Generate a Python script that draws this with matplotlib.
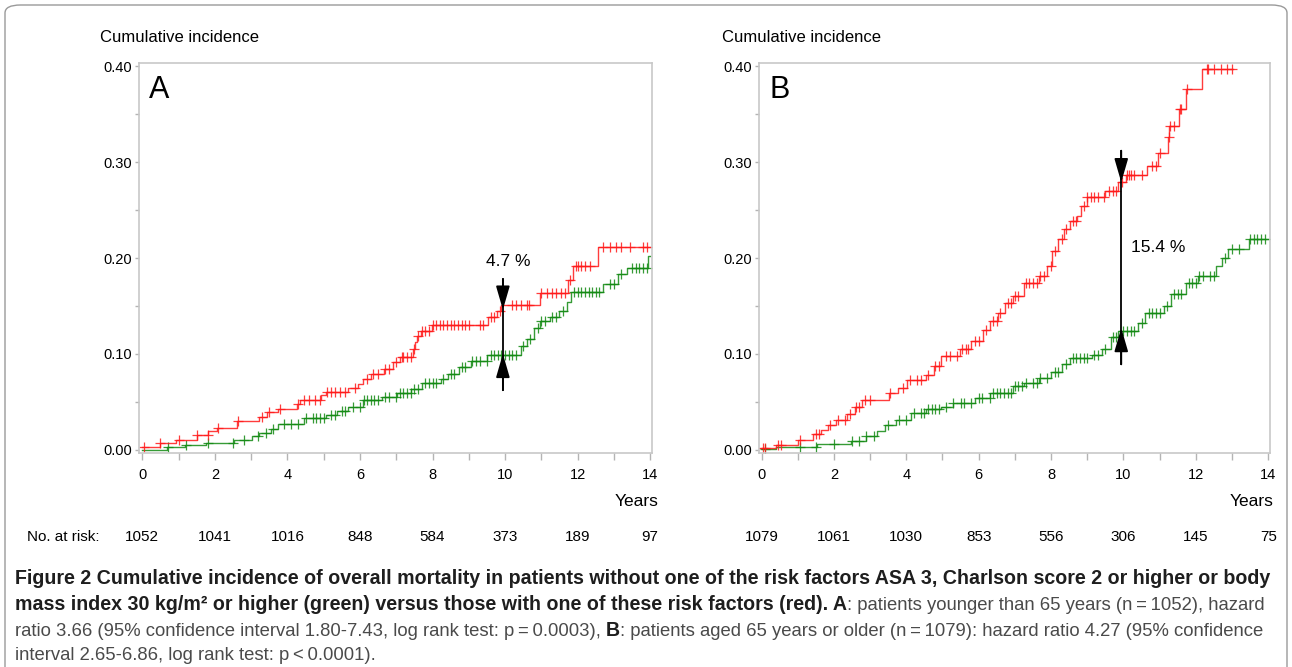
import numpy as np
import matplotlib
matplotlib.use('Agg')
import matplotlib.pyplot as plt
from matplotlib.patches import FancyBboxPatch
from matplotlib import transforms

plt.rcParams['font.family'] = ['Liberation Sans', 'DejaVu Sans']
CAP_FONT = ['Liberation Sans', 'DejaVu Sans']

# ---- panel A (younger than 65) : step times (years) and cumulative incidence
a_red_t = [0.0, 0.48, 0.94, 1.50, 1.81, 2.06, 2.62, 3.23, 3.44, 3.74, 4.26, 4.36, 4.92, 5.07,
           5.68, 5.94, 6.09, 6.30, 6.65, 6.91, 7.11, 7.47, 7.52, 7.57, 7.67, 7.98, 9.53, 9.77,
           9.90, 10.96, 11.74, 11.87, 12.57, 14.0]
a_red_v = [0.003, 0.007, 0.010, 0.0155, 0.019, 0.023, 0.030, 0.034, 0.039, 0.0425, 0.048, 0.052,
           0.057, 0.060, 0.064, 0.069, 0.074, 0.079, 0.084, 0.091, 0.097, 0.105, 0.112, 0.119,
           0.124, 0.130, 0.138, 0.145, 0.151, 0.163, 0.177, 0.192, 0.212, 0.212]
a_red_cens = [0.05, 0.5, 1.0, 1.5, 1.8, 2.1, 2.65, 3.3, 3.5, 3.8, 4.3, 4.45, 4.6, 4.75, 4.9, 5.1,
              5.2, 5.3, 5.45, 5.6, 5.85, 6.2, 6.35, 6.5, 6.7, 6.8, 7.0, 7.15, 7.2, 7.3, 7.4, 7.5,
              7.6, 7.7, 7.8, 7.9, 8.0, 8.1, 8.2, 8.3, 8.4, 8.5, 8.6, 8.7, 8.8, 8.9, 9.0, 9.3,
              9.4, 9.6, 9.7, 9.85, 10.2, 10.3, 10.45, 10.6, 10.65, 11.0, 11.15, 11.3, 11.4, 11.55,
              11.65, 11.8, 11.95, 12.0, 12.1, 12.2, 12.35, 12.7, 12.9, 13.05, 13.2, 13.45, 13.8, 13.9]

a_grn_t = [0.0, 0.68, 1.19, 1.76, 2.52, 3.03, 3.23, 3.54, 3.74, 4.46, 5.07, 5.38, 5.68, 6.09,
           6.60, 7.01, 7.42, 7.72, 8.23, 8.44, 8.74, 9.05, 9.51, 10.45, 10.60, 10.80, 10.96,
           11.24, 11.50, 11.70, 11.83, 12.70, 13.10, 13.35, 13.95, 14.0]
a_grn_v = [0.0, 0.0024, 0.005, 0.007, 0.010, 0.014, 0.017, 0.022, 0.027, 0.033, 0.036, 0.040,
           0.045, 0.052, 0.055, 0.059, 0.063, 0.070, 0.074, 0.079, 0.086, 0.093, 0.099, 0.108,
           0.115, 0.127, 0.134, 0.138, 0.145, 0.154, 0.165, 0.173, 0.183, 0.190, 0.202, 0.202]
a_grn_cens = [0.7, 1.2, 1.8, 2.5, 2.8, 3.2, 3.4, 3.6, 3.9, 4.1, 4.3, 4.5, 4.7, 4.8, 4.9, 5.0,
              5.2, 5.3, 5.5, 5.6, 5.8, 6.0, 6.1, 6.2, 6.3, 6.4, 6.5, 6.7, 6.8, 7.0, 7.1, 7.2,
              7.3, 7.4, 7.5, 7.6, 7.8, 7.9, 8.0, 8.1, 8.3, 8.5, 8.6, 8.8, 8.9, 9.1, 9.2, 9.3,
              9.5, 9.6, 9.7, 9.8, 9.9, 10.0, 10.1, 10.2, 10.3, 10.5, 10.7, 10.9, 11.0, 11.1,
              11.3, 11.4, 11.6, 11.9, 12.0, 12.1, 12.2, 12.3, 12.4, 12.5, 12.6, 12.9, 13.0,
              13.2, 13.5, 13.6, 13.7, 13.8, 13.9]

# ---- panel B (65 years or older)
b_red_t = [0.0, 0.39, 1.01, 1.43, 1.64, 1.84, 2.05, 2.36, 2.57, 2.78, 3.51, 3.77, 4.03, 4.55,
           4.76, 4.97, 5.49, 5.80, 6.11, 6.32, 6.53, 6.74, 6.95, 7.26, 7.68, 7.89, 8.04, 8.20,
           8.35, 8.51, 8.72, 8.82, 8.98, 9.50, 9.86, 10.07, 10.65, 10.96, 11.22, 11.27, 11.53,
           11.74, 12.16, 13.04]
b_red_v = [0.002, 0.005, 0.010, 0.016, 0.021, 0.026, 0.031, 0.037, 0.045, 0.052, 0.059, 0.064,
           0.073, 0.078, 0.087, 0.098, 0.105, 0.113, 0.125, 0.134, 0.143, 0.153, 0.160, 0.174,
           0.181, 0.192, 0.207, 0.220, 0.230, 0.239, 0.244, 0.254, 0.264, 0.270, 0.279, 0.287,
           0.296, 0.310, 0.326, 0.338, 0.355, 0.376, 0.397, 0.397]
b_red_cens = [0.05, 0.1, 0.45, 0.55, 1.05, 1.5, 1.6, 1.9, 2.1, 2.3, 2.45, 2.6, 2.7, 2.85, 3.0,
              3.55, 3.9, 4.1, 4.3, 4.4, 4.6, 4.8, 4.9, 5.1, 5.2, 5.4, 5.55, 5.65, 5.7, 5.9,
              6.0, 6.2, 6.4, 6.5, 6.6, 6.8, 6.9, 7.0, 7.1, 7.3, 7.4, 7.5, 7.6, 7.7, 7.8, 8.0,
              8.1, 8.3, 8.4, 8.6, 8.7, 8.9, 9.0, 9.1, 9.2, 9.3, 9.45, 9.6, 9.7, 9.8, 9.95,
              10.1, 10.15, 10.2, 10.3, 10.5, 10.8, 10.9, 11.0, 11.25, 11.3, 11.4, 11.55, 11.6,
              11.75, 12.3, 12.35, 12.5, 12.7, 12.85, 13.0]

b_grn_t = [0.0, 0.39, 1.53, 2.47, 2.89, 3.20, 3.41, 3.72, 4.14, 4.55, 4.97, 5.28, 5.91, 6.32,
           6.95, 7.26, 7.68, 7.99, 8.30, 8.51, 9.14, 9.40, 9.66, 9.86, 10.39, 10.59, 11.11,
           11.32, 11.74, 12.05, 12.57, 12.73, 12.89, 13.46, 14.0]
b_grn_v = [0.001, 0.003, 0.006, 0.009, 0.014, 0.019, 0.026, 0.031, 0.038, 0.042, 0.045, 0.049,
           0.054, 0.059, 0.066, 0.070, 0.075, 0.081, 0.089, 0.096, 0.099, 0.105, 0.118, 0.124,
           0.132, 0.143, 0.150, 0.162, 0.174, 0.181, 0.192, 0.200, 0.209, 0.220, 0.220]
b_grn_cens = [0.1, 1.05, 1.5, 2.0, 2.5, 2.7, 2.9, 3.1, 3.5, 3.8, 4.0, 4.2, 4.4, 4.5, 4.6, 4.7,
              4.8, 4.9, 5.1, 5.3, 5.5, 5.6, 5.8, 6.0, 6.1, 6.3, 6.4, 6.5, 6.6, 6.7, 6.8, 6.9,
              7.0, 7.1, 7.2, 7.3, 7.5, 7.6, 7.7, 7.9, 8.1, 8.2, 8.4, 8.6, 8.7, 8.8, 8.9, 9.0,
              9.2, 9.3, 9.5, 9.7, 9.8, 10.0, 10.1, 10.2, 10.3, 10.5, 10.7, 10.8, 10.9, 11.0,
              11.2, 11.4, 11.5, 11.6, 11.8, 11.9, 12.0, 12.1, 12.2, 12.4, 12.5, 12.8, 13.0,
              13.2, 13.5, 13.6, 13.7, 13.8, 13.9]

risk_ticks = [0, 2, 4, 6, 8, 10, 12, 14]
risk_a = [1052, 1041, 1016, 848, 584, 373, 189, 97]
risk_b = [1079, 1061, 1030, 853, 556, 306, 145, 75]

# difference arrows at 10 years: (x, line low, line high, upper tip, lower tip)
arrow_a = (9.94, 0.062, 0.178, 0.146, 0.100)
arrow_b = (9.94, 0.089, 0.312, 0.279, 0.127)

RED = '#ff1a1a'
GREEN = '#138a13'
GRAY = '#b4b4b4'


def step_value(times, vals, x):
    i = np.searchsorted(np.array(times), x, side='right') - 1
    return np.array(vals)[np.clip(i, 0, len(vals) - 1)]


def draw_curve(ax, t, v, cens, color):
    ax.step(t, v, where='post', color=color, lw=1.0, alpha=0.85)
    cy = step_value(t, v, np.array(cens))
    ax.plot(cens, cy, ls='none', marker='+', ms=6.5, mew=0.9, color=color, alpha=0.85)


def draw_arrow(ax, arr):
    x, lo, hi, tip_dn, tip_up = arr
    ax.plot([x, x], [lo, hi], color='k', lw=1.3)
    ap = dict(arrowstyle='-|>,head_length=1.45,head_width=0.42', color='k', lw=1.3,
              shrinkA=0, shrinkB=0)
    ax.annotate('', xy=(x, tip_dn), xytext=(x, hi), arrowprops=ap)
    ax.annotate('', xy=(x, tip_up), xytext=(x, lo), arrowprops=ap)


def style_axes(ax, x0):
    ax.set_xlim(x0, 14.05)
    ax.set_ylim(-0.0035, 0.4035)
    ax.set_xticks(range(0, 15, 2))
    ax.set_xticks(range(0, 15), minor=True)
    ax.set_yticks([0, 0.1, 0.2, 0.3, 0.4])
    ax.set_yticks([0.05, 0.15, 0.25, 0.35], minor=True)
    ax.set_yticklabels(['0.00', '0.10', '0.20', '0.30', '0.40'])
    ax.tick_params(which='both', direction='out', color=GRAY, width=1.0, labelsize=10.5,
                   labelcolor='black')
    ax.tick_params(axis='x', which='both', length=5, pad=6)
    ax.tick_params(axis='y', which='both', length=3, pad=2)
    for s in ax.spines.values():
        s.set_color('#c8c8c8')
        s.set_linewidth(1.2)


W, H = 1292, 667
fig = plt.figure(figsize=(W / 100, H / 100), dpi=100)

axA = fig.add_axes([139 / W, 1 - 453 / H, 513 / W, 390 / H])
axB = fig.add_axes([759 / W, 1 - 453 / H, 511 / W, 390 / H])

draw_curve(axA, a_grn_t, a_grn_v, a_grn_cens, GREEN)
draw_curve(axA, a_red_t, a_red_v, a_red_cens, RED)
draw_curve(axB, b_grn_t, b_grn_v, b_grn_cens, GREEN)
draw_curve(axB, b_red_t, b_red_v, b_red_cens, RED)

style_axes(axA, -0.09)
style_axes(axB, -0.07)

draw_arrow(axA, arrow_a)
draw_arrow(axB, arrow_b)
axA.text(10.08, 0.196, '4.7 %', ha='center', va='center', fontsize=12.5)
axB.text(10.2, 0.211, '15.4 %', ha='left', va='center', fontsize=12.5)

axA.text(0.02, 0.97, 'A', transform=axA.transAxes, ha='left', va='top', fontsize=22)
axB.text(0.02, 0.97, 'B', transform=axB.transAxes, ha='left', va='top', fontsize=22)

fig.text(100 / W, 1 - 37 / H, 'Cumulative incidence', fontsize=12, va='center', ha='left')
fig.text(722 / W, 1 - 37 / H, 'Cumulative incidence', fontsize=12, va='center', ha='left')
fig.text(658 / W, 1 - 502 / H, 'Years', fontsize=12.5, va='center', ha='right')
fig.text(1273 / W, 1 - 502 / H, 'Years', fontsize=12.5, va='center', ha='right')

# numbers at risk, placed under the year ticks
fig.text(27 / W, 1 - 537 / H, 'No. at risk:', fontsize=11, va='center', ha='left')
for ax, nums in ((axA, risk_a), (axB, risk_b)):
    tr = transforms.blended_transform_factory(ax.transData, fig.transFigure)
    for t, n in zip(risk_ticks, nums):
        fig.text(t, 1 - 537 / H, str(n), transform=tr, fontsize=11, ha='center', va='center')

# caption with mixed weights
cap_lines = [
    [('Figure 2 Cumulative incidence of overall mortality in patients without one of the risk '
      'factors ASA 3, Charlson score 2 or higher or body', 'bold')],
    [('mass index 30 kg/m\u00b2 or higher (green) versus those with one of these risk factors '
      '(red). A', 'bold'),
     (': patients younger than 65 years (n\u2009=\u20091052), hazard', 'normal')],
    [('ratio 3.66 (95% confidence interval 1.80-7.43, log rank test: p\u2009=\u20090.0003), ', 'normal'),
     ('B', 'bold'),
     (': patients aged 65 years or older (n\u2009=\u20091079): hazard ratio 4.27 (95% confidence',
      'normal')],
    [('interval 2.65-6.86, log rank test: p\u2009<\u20090.0001).', 'normal')],
]
cap_y = [578, 605, 631, 656]
cap_size = {'bold': 14.1, 'normal': 13.3}
renderer = fig.canvas.get_renderer()
for runs, yy in zip(cap_lines, cap_y):
    x = 15 / W
    for txt, wt in runs:
        col = '#1e1e1e' if wt == 'bold' else '#4a4a4a'
        tt = fig.text(x, 1 - yy / H, txt, fontsize=cap_size[wt], fontweight=wt, color=col,
                      family=CAP_FONT, ha='left', va='center')
        x += tt.get_window_extent(renderer).width / W

# rounded outer frame
frame = FancyBboxPatch((5 / W, -0.05), 1282 / W, 1 - 5 / H + 0.05,
                       boxstyle='round,pad=0,rounding_size=0.012', transform=fig.transFigure,
                       fill=False, edgecolor='#9a9a9a', lw=1.0)
fig.patches.append(frame)

fig.savefig('out.png', dpi=100)
